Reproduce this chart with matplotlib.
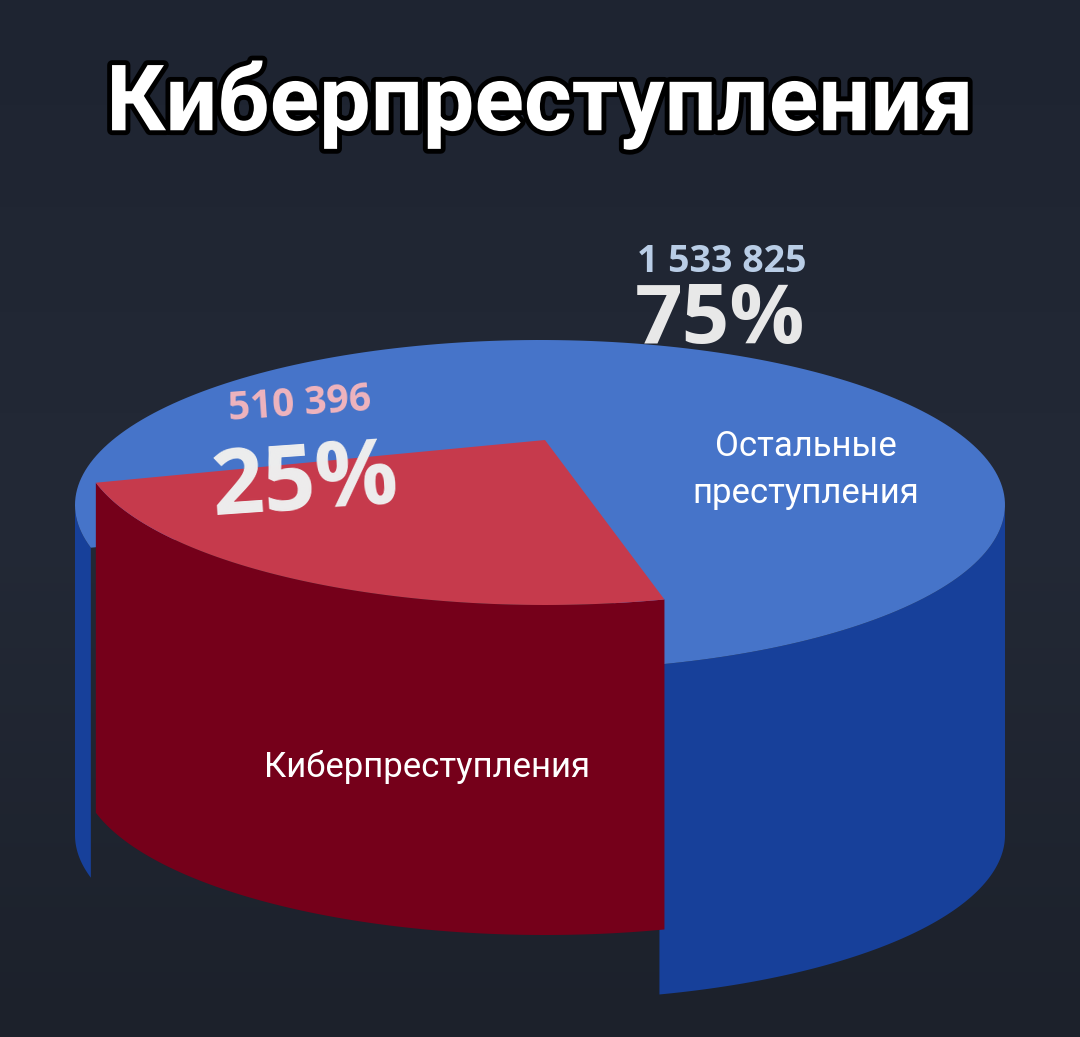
import numpy as np
import matplotlib
matplotlib.use("Agg")
import matplotlib.pyplot as plt
from matplotlib.patches import Polygon
import matplotlib.patheffects as pe
from matplotlib.colors import LinearSegmentedColormap

categories = ["Киберпреступления", "Остальные\nпреступления"]
values = [510396, 1533825]
value_labels = ["510 396", "1 533 825"]
title = "Киберпреступления"

W, H = 1080, 1037
fig = plt.figure(figsize=(W/100, H/100), dpi=100)
ax = fig.add_axes([0, 0, 1, 1])
ax.set_xlim(0, W); ax.set_ylim(H, 0); ax.axis("off")
grad = np.linspace(0, 1, 256)[:, None]
cm = LinearSegmentedColormap.from_list("bg", ["#1e2431", "#232936", "#1c212b"])
ax.imshow(grad, cmap=cm, extent=[0, W, H, 0], aspect="auto", zorder=0)

total = sum(values)
fr = [v/total for v in values]
start = 195.0
red_span = (start, start + 360*fr[0])
blue_span = (start + 360*fr[0], start + 360)

rx, ry, depth = 465, 165, 330
def pts(cx, cy, t0, t1, n=200, dy=0):
    t = np.radians(np.linspace(t0, t1, n))
    return np.c_[cx + rx*np.cos(t), cy - ry*np.sin(t) + dy]

def slice3d(cx, cy, span, ctop, cside, z, rx_scale=1.0):
    t0, t1 = span
    for lo, hi in [(max(t0, 180), min(t1, 360)), (max(t0, 540), min(t1, 720))]:
        if hi > lo:
            top = pts(cx, cy, lo, hi)
            bot = pts(cx, cy, hi, lo, dy=depth)
            ax.add_patch(Polygon(np.r_[top, bot], closed=True, fc=cside, ec="none", zorder=z))
    arc = pts(cx, cy, t0, t1)
    ax.add_patch(Polygon(np.r_[[[cx, cy]], arc], closed=True, fc=ctop, ec="none", zorder=z + 1))

slice3d(540, 505, blue_span, "#4674c9", "#17409a", 2)
slice3d(545, 440, red_span, "#c63a4c", "#75001a", 5)

ax.text(540, 105, title, ha="center", va="center", fontsize=66, fontweight="bold",
        family="Roboto", color="white", zorder=10,
        path_effects=[pe.withStroke(linewidth=7, foreground="black")])

ax.text(722, 262, value_labels[1], ha="center", va="center", fontsize=27, fontweight="bold",
        color="#b9cde6", zorder=10, family="Open Sans")
ax.text(720, 322, f"{round(fr[1]*100)}%", ha="center", va="center", fontsize=60,
        fontweight="bold", color="#e8e8e8", zorder=10, family="Open Sans")
ax.text(300, 405, value_labels[0], ha="center", va="center", fontsize=28, fontweight="bold",
        color="#f0b4bd", zorder=10, family="Open Sans", rotation=4)
ax.text(305, 485, f"{round(fr[0]*100)}%", ha="center", va="center", fontsize=66,
        fontweight="bold", color="#eeeeee", zorder=10, family="Open Sans", rotation=4)

ax.text(806, 470, categories[1], ha="center", va="center", fontsize=25, color="white",
        family="Roboto", zorder=10, linespacing=1.5)
ax.text(427, 767, categories[0], ha="center", va="center", fontsize=25, color="white",
        family="Roboto", zorder=10)

fig.savefig("out.png", dpi=100)
